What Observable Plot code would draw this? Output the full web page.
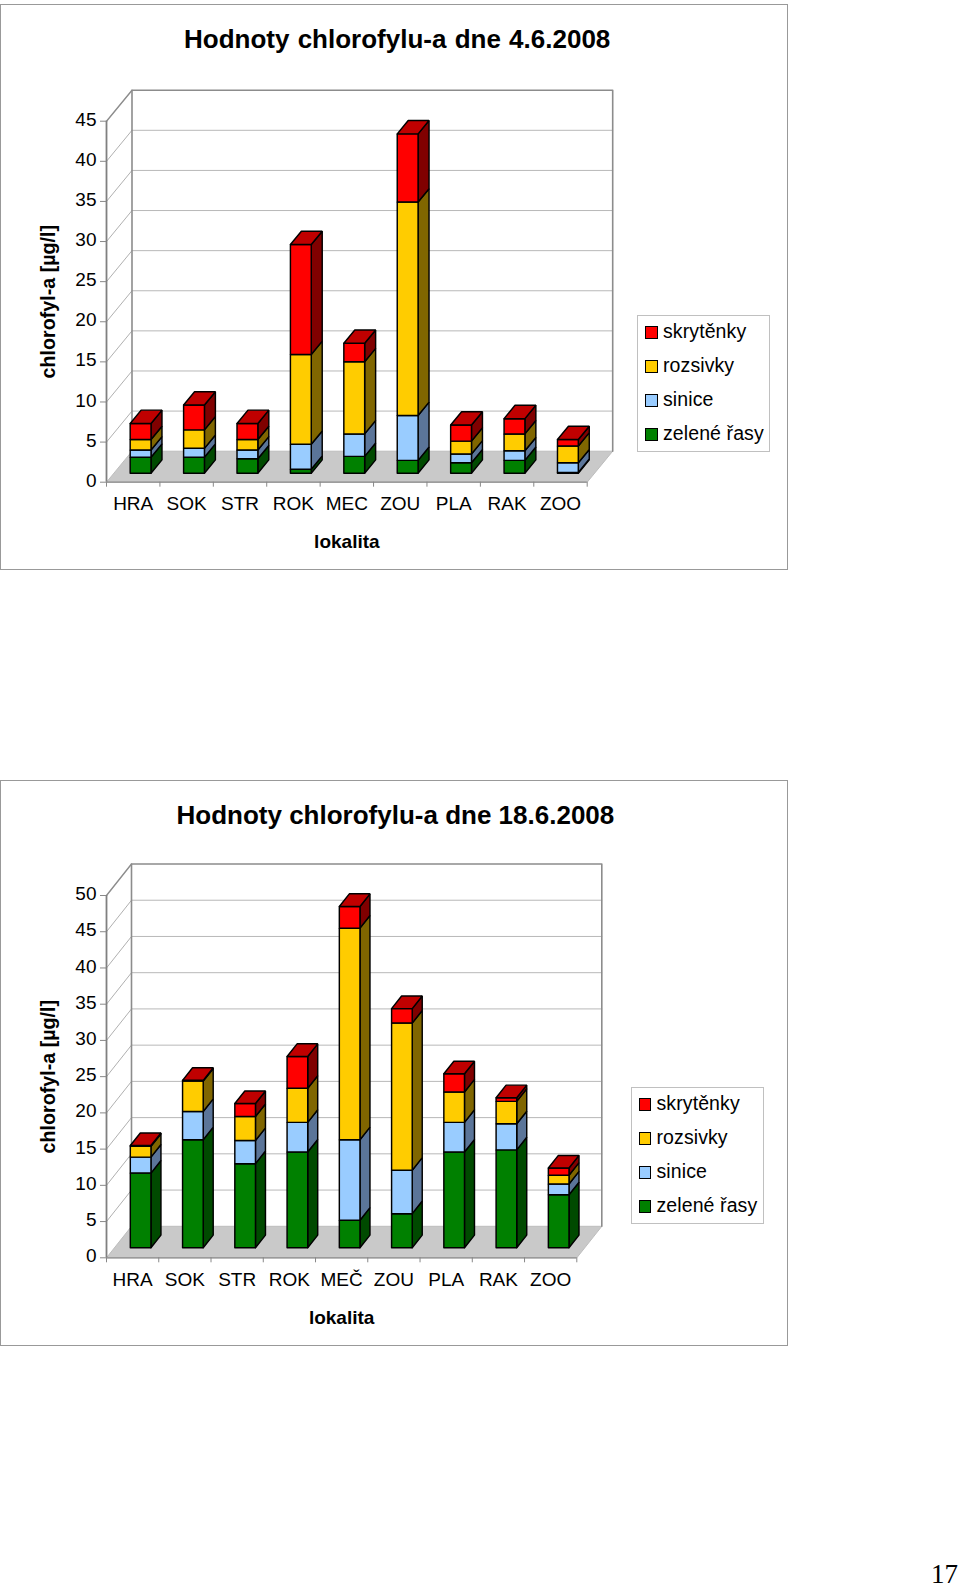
<!DOCTYPE html>
<html><head><meta charset="utf-8">
<script src="https://cdn.jsdelivr.net/npm/d3@7"></script>
<script src="https://cdn.jsdelivr.net/npm/@observablehq/plot@0.6"></script>
<style>
html,body{margin:0;padding:0;background:#fff}
body{position:relative;width:960px;height:1585px;overflow:hidden;font-family:"Liberation Sans",Arial,sans-serif;color:#000}
.chart{position:absolute;left:0;width:788px;height:566px}
.frame{position:absolute;inset:0;border:1px solid #999;box-sizing:border-box}
.chart svg{position:absolute;left:0;top:0;overflow:visible}
.title{position:absolute;font-weight:bold;font-size:26px;line-height:30px;white-space:pre;letter-spacing:0}
.legend{position:absolute;border:1.3px solid #c0c0c0;box-sizing:border-box;background:#fff}
.item{position:absolute;left:0;height:24px;line-height:24px;font-size:19.5px;white-space:pre;letter-spacing:.1px}
.sw{position:absolute;top:7px;width:12.5px;height:12.5px;box-sizing:border-box;border:1.6px solid #000}
.tx{position:absolute;top:0}
#page{position:absolute;font-family:"Liberation Serif",serif;font-size:27px;line-height:20px}
</style></head><body>
<div id="c1" class="chart" style="top:4px"></div>
<div id="c2" class="chart" style="top:780px"></div>
<div id="page" style="left:931px;top:1564px">17</div>
<script>
const seriesNames = ["zelené řasy","sinice","rozsivky","skrytěnky"];
const frontColors = ["#008000","#99CCFF","#FFCC00","#FF0000"];
const sideColors  = ["#004a00","#5b7599","#806600","#800000"];
const topColors   = ["#006400","#7a9ccc","#c8a000","#C00000"];

const categories1 = ["HRA","SOK","STR","ROK","MEC","ZOU","PLA","RAK","ZOO"];
const zelene1    = [2.0,2.0,1.8,0.5,2.1,1.6,1.3,1.6,0.1];
const sinice1    = [0.9,1.1,1.1,3.1,2.8,5.6,1.1,1.2,1.2];
const rozsivky1  = [1.3,2.3,1.3,11.2,9.0,26.6,1.6,2.1,2.1];
const skrytenky1 = [2.0,3.1,2.0,13.7,2.3,8.5,2.0,1.9,0.8];
const yTicks1 = [0,5,10,15,20,25,30,35,40,45];

const categories2 = ["HRA","SOK","STR","ROK","MEČ","ZOU","PLA","RAK","ZOO"];
const zelene2    = [10.3,14.9,11.6,13.2,3.8,4.7,13.2,13.5,7.3];
const sinice2    = [2.2,3.9,3.2,4.1,11.1,6.0,4.1,3.6,1.5];
const rozsivky2  = [1.5,4.2,3.3,4.7,29.2,20.3,4.2,3.1,1.2];
const skrytenky2 = [0.1,0.1,1.8,4.4,3.0,2.0,2.5,0.5,1.0];
const yTicks2 = [0,5,10,15,20,25,30,35,40,45,50];

function build(host, cfg){
  const {cats, stacks, ticks, pxX0, pxX1, pxY0Top, pxYTop} = cfg;
  const n = cats.length, yMax = ticks[ticks.length-1];
  const pxPerCat = (pxX1-pxX0)/n, pxPerVal = (pxY0Top-pxYTop)/yMax;
  const wallX = cfg.wallPxX/pxPerCat, wallY = cfg.wallPxY/pxPerVal;
  const P = (x,y,d=0)=>({x:x+d*wallX, y:y+d*wallY});

  // Walls and floor
  const floor = [P(0,0),P(n,0),P(n,0,1),P(0,0,1),P(0,0)].map(p=>({...p,id:"floor"}));
  const wallBack = [P(0,0,1),P(0,yMax,1),P(n,yMax,1),P(n,0,1)];
  const wallSide = [P(0,yMax),P(0,yMax,1)];
  const gridBack = ticks.slice(1,-1).flatMap(t=>[P(0,t,1),P(n,t,1)].map(p=>({...p,id:t})));
  const gridSide = ticks.slice(1,-1).flatMap(t=>[P(0,t),P(0,t,1)].map(p=>({...p,id:t})));

  // Stacked 3-D bars
  const w = cfg.barWidth, d0 = cfg.barFront, d1 = cfg.barBack;
  const faces = [];
  cats.forEach((c,i)=>{
    const x0 = i+.5-w/2, x1 = i+.5+w/2;
    let acc = 0, lastS = 0;
    stacks.forEach((vals,s)=>{
      const v = vals[i]; if(!v) return;
      const a = acc, b = acc+v; acc = b; lastS = s;
      const add = (pts,color,tag)=>{pts.concat([pts[0]]).forEach(p=>faces.push({...p,id:`${c}-${s}-${tag}`,color}));};
      add([P(x1,a,d0),P(x1,a,d1),P(x1,b,d1),P(x1,b,d0)],sideColors[s],"side");
      add([P(x0,a,d0),P(x1,a,d0),P(x1,b,d0),P(x0,b,d0)],frontColors[s],"front");
    });
    const pts=[P(x0,acc,d0),P(x1,acc,d0),P(x1,acc,d1),P(x0,acc,d1)];
    pts.concat([pts[0]]).forEach(p=>faces.push({...p,id:`${c}-top`,color:topColors[lastS]}));
  });

  const svg = Plot.plot({
    width:788, height:566,
    marginLeft:pxX0, marginRight:788-pxX1, marginTop:pxYTop, marginBottom:566-pxY0Top,
    x:{domain:[0,n]}, y:{domain:[0,yMax]}, color:{type:"identity"},
    style:{fontFamily:"'Liberation Sans',Arial,sans-serif",background:"transparent",color:"#000"},
    marks:[
      Plot.line(floor,{x:"x",y:"y",z:"id",fill:"#c9c9c9",stroke:"#bdbdbd",strokeWidth:1}),
      Plot.line(gridBack,{x:"x",y:"y",z:"id",stroke:"#b8b8b8",strokeWidth:1}),
      Plot.line(gridSide,{x:"x",y:"y",z:"id",stroke:"#b0b0b0",strokeWidth:1}),
      Plot.line(wallBack,{x:"x",y:"y",stroke:"#8c8c8c",strokeWidth:1.6}),
      Plot.line(wallSide,{x:"x",y:"y",stroke:"#8c8c8c",strokeWidth:1.4}),
      Plot.ruleX([0],{y1:0,y2:yMax,stroke:"#808080",strokeWidth:1.8}),
      Plot.ruleY([0],{x1:0,x2:n,stroke:"#8c8c8c",strokeWidth:1.2}),
      Plot.axisY({ticks,tickSize:6,tickPadding:4,fontSize:19,stroke:"#888",fill:"#000",label:null,textStroke:"none"}),
      Plot.axisX({ticks:d3.range(n+1),tickSize:5,tickFormat:()=>"",stroke:"#888",label:null}),
      Plot.line(faces,{x:"x",y:"y",z:"id",fill:"color",stroke:"#000",strokeWidth:1.45,strokeLinejoin:"miter"}),
      Plot.text(cats,{x:(d,i)=>i+.5,y:0,dy:cfg.catDy,text:d=>d,fontSize:19,fill:"#000",letterSpacing:"-0.9px"}),
      Plot.text(["lokalita"],{x:n/2,y:0,dy:60,text:d=>d,fontSize:19,fontWeight:"bold",fill:"#000",letterSpacing:"0.7px"}),
      Plot.text(["chlorofyl-a [µg/l]"],{frameAnchor:"left",textAnchor:"middle",y:yMax/2,dx:-58,rotate:-90,text:d=>d,fontSize:19.7,fontWeight:"bold",fill:"#000"})
    ]
  });
  const frame = document.createElement("div"); frame.className="frame";
  host.append(frame, svg);

  const t = document.createElement("div"); t.className="title"; t.textContent=cfg.title;
  t.style.left=cfg.titleX+"px"; t.style.top=cfg.titleY+"px"; t.style.wordSpacing=cfg.titleWs+"px";
  host.append(t);

  const lg = document.createElement("div"); lg.className="legend";
  Object.assign(lg.style,{left:cfg.lgX+"px",top:cfg.lgY+"px",width:"133px",height:"137px"});
  [3,2,1,0].forEach((s,k)=>{
    const it=document.createElement("div"); it.className="item"; it.style.top=(3+k*34)+"px"; it.style.width="130px";
    const sw=document.createElement("span"); sw.className="sw"; sw.style.left="7px"; sw.style.background=frontColors[s];
    const tx=document.createElement("span"); tx.className="tx"; tx.style.left="25px"; tx.textContent=seriesNames[s];
    it.append(sw,tx); lg.append(it);
  });
  host.append(lg);
}

build(document.getElementById("c1"),{
  cats:categories1, stacks:[zelene1,sinice1,rozsivky1,skrytenky1], ticks:yTicks1,
  pxX0:106, pxX1:586.7, pxY0Top:477.7, pxYTop:116.7,
  wallPxX:25.5, wallPxY:31, barWidth:.39, barFront:.29, barBack:.72, catDy:21.5,
  title:"Hodnoty chlorofylu-a dne 4.6.2008", titleX:184, titleY:20, titleWs:1, lgX:637, lgY:311
});
build(document.getElementById("c2"),{
  cats:categories2, stacks:[zelene2,sinice2,rozsivky2,skrytenky2], ticks:yTicks2,
  pxX0:106, pxX1:576.3, pxY0Top:477.3, pxYTop:115,
  wallPxX:25, wallPxY:31.5, barWidth:.395, barFront:.32, barBack:.72, catDy:22,
  title:"Hodnoty chlorofylu-a dne 18.6.2008", titleX:176.5, titleY:20, titleWs:0, lgX:630.5, lgY:307
});
document.querySelectorAll(".chart svg").forEach(s=>{
  s.querySelectorAll('g[aria-label="y-axis tick label"]').forEach(g=>g.setAttribute("transform",(g.getAttribute("transform")||"")+" translate(0,-1.5)"));
});
</script>
</body></html>
